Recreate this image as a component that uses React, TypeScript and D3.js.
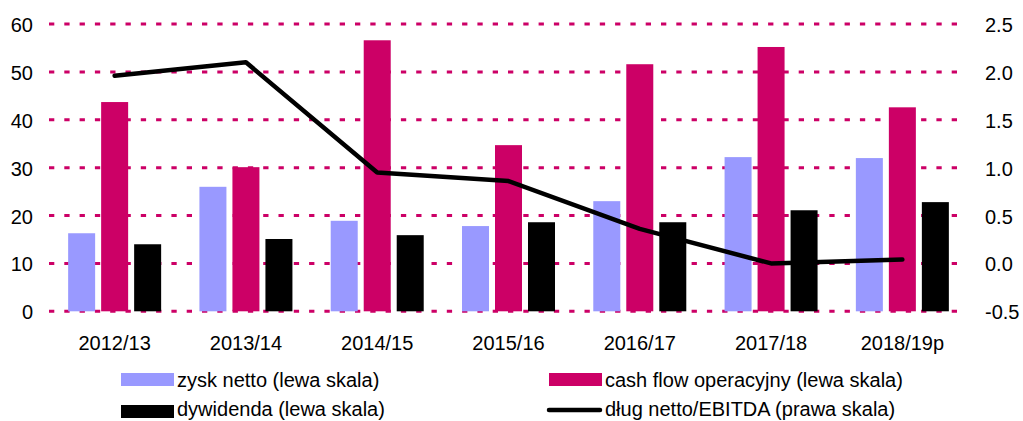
import React, { useEffect, useRef } from 'react';
import * as d3 from 'd3';

// Chart data
const categories = ['2012/13', '2013/14', '2014/15', '2015/16', '2016/17', '2017/18', '2018/19p'];
const zyskNetto = [16.3, 26.0, 18.9, 17.8, 23.0, 32.2, 32.0];
const cashFlow = [43.7, 30.1, 56.6, 34.7, 51.6, 55.2, 42.6];
const dywidenda = [14.0, 15.1, 15.9, 18.6, 18.6, 21.1, 22.8];
const dlugEbitda = [1.96, 2.1, 0.95, 0.86, 0.36, 0.0, 0.04];
const leftTicks = [0, 10, 20, 30, 40, 50, 60];
const rightTicks = [-0.5, 0, 0.5, 1.0, 1.5, 2.0, 2.5];

const seriesNames = ['zysk netto (lewa skala)', 'cash flow operacyjny (lewa skala)', 'dywidenda (lewa skala)'];
const seriesColors = ['#9999FF', '#CC0066', '#000000'];
const lineName = 'dług netto/EBITDA (prawa skala)';

const W = 1023;
const H = 421;
const FONT = '"Liberation Sans", Arial, sans-serif';

const App = () => {
    const ref = useRef<SVGSVGElement | null>(null);

    useEffect(() => {
        if (!ref.current) return;
        const svg = d3.select(ref.current);
        svg.selectAll('*').remove();

        const plot = { left: 49, right: 968, top: 24, bottom: 311.3 };

        const x0 = d3.scaleBand<string>().domain(categories).range([plot.left, plot.right]);
        const x1 = d3.scaleBand<number>()
            .domain([0, 1, 2])
            .range([0, x0.bandwidth()])
            .paddingInner(6 / 33)
            .paddingOuter(0.58);
        const yL = d3.scaleLinear().domain([0, 60]).range([plot.bottom, plot.top]);
        const yR = d3.scaleLinear().domain([-0.5, 2.5]).range([plot.bottom, plot.top]);

        // dashed gridlines (pattern stops a bit short of the plot edge, like the original)
        svg.append('g')
            .selectAll('line')
            .data(leftTicks)
            .enter()
            .append('line')
            .attr('x1', plot.left)
            .attr('x2', plot.right - 5)
            .attr('y1', d => yL(d))
            .attr('y2', d => yL(d))
            .attr('stroke', '#CC0066')
            .attr('stroke-width', 3)
            .attr('stroke-dasharray', '5.3 10');

        // bars
        const seriesData = [zyskNetto, cashFlow, dywidenda];
        const groups = svg.append('g')
            .selectAll('g')
            .data(categories)
            .enter()
            .append('g')
            .attr('transform', d => `translate(${x0(d)},0)`);
        groups.selectAll('rect')
            .data((_, i) => seriesData.map((s, k) => ({ k, v: s[i] })))
            .enter()
            .append('rect')
            .attr('x', d => x1(d.k) as number)
            .attr('width', x1.bandwidth())
            .attr('y', d => yL(d.v))
            .attr('height', d => yL(0) - yL(d.v))
            .attr('fill', d => seriesColors[d.k]);

        // line on right scale
        const line = d3.line<number>()
            .x((_, i) => (x0(categories[i]) as number) + x0.bandwidth() / 2)
            .y(d => yR(d));
        svg.append('path')
            .datum(dlugEbitda)
            .attr('d', line)
            .attr('fill', 'none')
            .attr('stroke', '#000')
            .attr('stroke-width', 4.5)
            .attr('stroke-linejoin', 'round')
            .attr('stroke-linecap', 'round');

        // left axis labels
        svg.append('g')
            .selectAll('text')
            .data(leftTicks)
            .enter()
            .append('text')
            .attr('x', 33)
            .attr('y', d => yL(d))
            .attr('dy', '0.4em')
            .attr('text-anchor', 'end')
            .text(d => String(d));

        // right axis labels (plain hyphen for the minus sign)
        svg.append('g')
            .selectAll('text')
            .data(rightTicks)
            .enter()
            .append('text')
            .attr('x', 985)
            .attr('y', d => yR(d))
            .attr('dy', '0.4em')
            .attr('text-anchor', 'start')
            .text(d => d.toFixed(1));

        // category labels
        svg.append('g')
            .selectAll('text')
            .data(categories)
            .enter()
            .append('text')
            .attr('x', d => (x0(d) as number) + x0.bandwidth() / 2)
            .attr('y', 350)
            .attr('text-anchor', 'middle')
            .text(d => d);

        // legend
        const legend = svg.append('g');
        const items = [
            { x: 121, y: 379.5, type: 'rect', color: seriesColors[0], label: seriesNames[0] },
            { x: 549, y: 379.5, type: 'rect', color: seriesColors[1], label: seriesNames[1] },
            { x: 121, y: 411.5, type: 'rect', color: seriesColors[2], label: seriesNames[2] },
            { x: 549, y: 410, type: 'line', color: '#000', label: lineName },
        ];
        items.forEach(it => {
            if (it.type === 'rect') {
                legend.append('rect')
                    .attr('x', it.x)
                    .attr('y', it.y - 6.5)
                    .attr('width', 53)
                    .attr('height', 13)
                    .attr('fill', it.color);
            } else {
                legend.append('line')
                    .attr('x1', it.x)
                    .attr('x2', it.x + 51)
                    .attr('y1', it.y)
                    .attr('y2', it.y)
                    .attr('stroke', it.color)
                    .attr('stroke-width', 4.5)
                    .attr('stroke-linecap', 'round');
            }
            legend.append('text')
                .attr('x', it.x + 56)
                .attr('y', Math.min(it.y + 7.5, 416))
                .text(it.label);
        });
    }, []);

    return (
        <svg
            ref={ref}
            width={W}
            height={H}
            style={{ position: 'absolute', left: 0, top: 0, background: '#fff' }}
            fontFamily={FONT}
            fontSize={20}
            fill="#000"
        />
    );
};

export default App;
